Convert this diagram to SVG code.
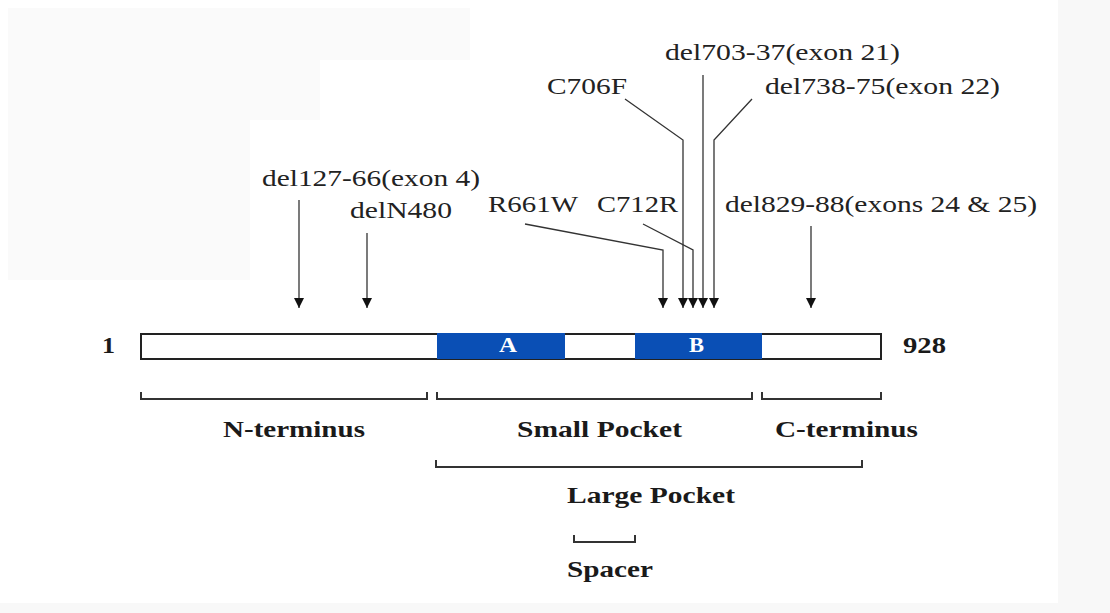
<svg xmlns="http://www.w3.org/2000/svg" width="1110" height="613" viewBox="0 0 1110 613">
  <defs>
    <marker id="arr" viewBox="0 0 10 10" refX="10" refY="5" markerWidth="10" markerHeight="10" markerUnits="userSpaceOnUse" orient="auto">
      <path d="M0,0 L10,5 L0,10 z" fill="#111"/>
    </marker>
    <style>
      .lbl { font-family: "Liberation Serif", "Times New Roman", serif; font-size: 23px; fill: #222; }
      .bold { font-family: "Liberation Serif", "Times New Roman", serif; font-size: 23px; font-weight: bold; fill: #1a1a1a; }
      .dom { font-family: "Liberation Serif", "Times New Roman", serif; font-size: 20px; font-weight: bold; fill: #ffffff; }
      .lead { fill: none; stroke: #333; stroke-width: 1.3; }
      .brk { fill: none; stroke: #333; stroke-width: 2; }
    </style>
  </defs>

  <rect x="0" y="0" width="1110" height="613" fill="#ffffff"/>
  <path d="M8,8 H470 V60 H320 V120 H250 V280 H8 Z" fill="#fafafa"/>
  <rect x="1058" y="0" width="52" height="613" fill="#f8f8f8"/>
  <rect x="0" y="603" width="1110" height="10" fill="#f8f8f8"/>

  <g id="protein-bar">
    <rect x="141" y="334" width="740" height="25" fill="#ffffff" stroke="#222" stroke-width="2"/>
    <text class="bold" x="102" y="353" textLength="13" lengthAdjust="spacingAndGlyphs">1</text>
    <text class="bold" x="903" y="353" textLength="43" lengthAdjust="spacingAndGlyphs">928</text>
  </g>
  <g id="domain-A">
    <rect x="437" y="333" width="128" height="26" fill="#0a4fb5"/>
    <text class="dom" x="499" y="352" textLength="18" lengthAdjust="spacingAndGlyphs">A</text>
  </g>
  <g id="domain-B">
    <rect x="635" y="333" width="127" height="26" fill="#0a4fb5"/>
    <text class="dom" x="689" y="352" textLength="15" lengthAdjust="spacingAndGlyphs">B</text>
  </g>

  <g id="connectors">
    <path class="lead" d="M299,200 V308" marker-end="url(#arr)"/>
    <path class="lead" d="M367,233 V308" marker-end="url(#arr)"/>
    <path class="lead" d="M525,224 L663,250 V308" marker-end="url(#arr)"/>
    <path class="lead" d="M625,99 L683,140 V308" marker-end="url(#arr)"/>
    <path class="lead" d="M643,224 L693,250 V308" marker-end="url(#arr)"/>
    <path class="lead" d="M703,75 V308" marker-end="url(#arr)"/>
    <path class="lead" d="M752,99 L714,140 V308" marker-end="url(#arr)"/>
    <path class="lead" d="M811,226 V308" marker-end="url(#arr)"/>
  </g>

  <g id="mut-del127">
    <text class="lbl" x="262" y="186" textLength="218" lengthAdjust="spacingAndGlyphs">del127-66(exon 4)</text>
  </g>
  <g id="mut-delN480">
    <text class="lbl" x="350" y="218" textLength="102" lengthAdjust="spacingAndGlyphs">delN480</text>
  </g>
  <g id="mut-R661W">
    <text class="lbl" x="488" y="212" textLength="90" lengthAdjust="spacingAndGlyphs">R661W</text>
  </g>
  <g id="mut-C706F">
    <text class="lbl" x="547" y="94" textLength="80" lengthAdjust="spacingAndGlyphs">C706F</text>
  </g>
  <g id="mut-C712R">
    <text class="lbl" x="597" y="212" textLength="81" lengthAdjust="spacingAndGlyphs">C712R</text>
  </g>
  <g id="mut-del703">
    <text class="lbl" x="665" y="60" textLength="235" lengthAdjust="spacingAndGlyphs">del703-37(exon 21)</text>
  </g>
  <g id="mut-del738">
    <text class="lbl" x="765" y="94" textLength="235" lengthAdjust="spacingAndGlyphs">del738-75(exon 22)</text>
  </g>
  <g id="mut-del829">
    <text class="lbl" x="725" y="212" textLength="312" lengthAdjust="spacingAndGlyphs">del829-88(exons 24 &amp; 25)</text>
  </g>

  <g id="region-N-terminus">
    <path class="brk" d="M141,392 V399 H427 V392"/>
    <text class="bold" x="223" y="437" textLength="142" lengthAdjust="spacingAndGlyphs">N-terminus</text>
  </g>
  <g id="region-small-pocket">
    <path class="brk" d="M437,392 V399 H752 V392"/>
    <text class="bold" x="517" y="437" textLength="165" lengthAdjust="spacingAndGlyphs">Small Pocket</text>
  </g>
  <g id="region-C-terminus">
    <path class="brk" d="M762,392 V399 H881 V392"/>
    <text class="bold" x="775" y="437" textLength="143" lengthAdjust="spacingAndGlyphs">C-terminus</text>
  </g>
  <g id="region-large-pocket">
    <path class="brk" d="M436,460 V467 H862 V460"/>
    <text class="bold" x="567" y="503" textLength="168" lengthAdjust="spacingAndGlyphs">Large Pocket</text>
  </g>
  <g id="region-spacer">
    <path class="brk" d="M574,535 V542 H635 V535"/>
    <text class="bold" x="567" y="577" textLength="86" lengthAdjust="spacingAndGlyphs">Spacer</text>
  </g>
</svg>
